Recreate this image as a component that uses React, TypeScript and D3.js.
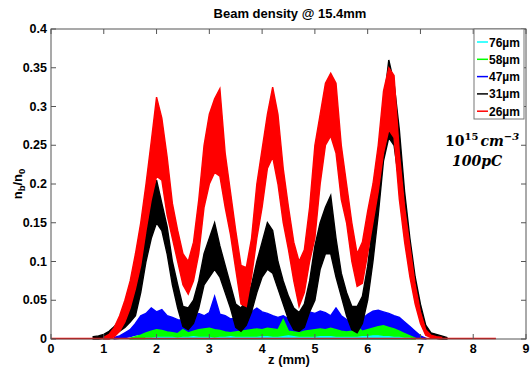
import React from 'react';
import * as d3 from 'd3';

// sampling step of the traces (mm)
const Z_STEP = 0.1;

const xTicks = [0, 1, 2, 3, 4, 5, 6, 7, 8, 9];
const yTicks = [0, 0.05, 0.1, 0.15, 0.2, 0.25, 0.3, 0.35, 0.4];
const yTickLabels = ['0', '0.05', '0.1', '0.15', '0.2', '0.25', '0.3', '0.35', '0.4'];

const legendNames = ['76\u00b5m', '58\u00b5m', '47\u00b5m', '31\u00b5m', '26\u00b5m'];
const legendColors = ['#00ffff', '#00ff00', '#0000ff', '#000000', '#ff0000'];

// 26 um (red), z from 1.0
const red26Start = 1.0;
const red26Hi = [0.002, 0.006, 0.015, 0.03, 0.05, 0.075, 0.11, 0.15, 0.2, 0.255,
  0.312, 0.285, 0.235, 0.175, 0.14, 0.11, 0.1, 0.125, 0.18, 0.25,
  0.29, 0.31, 0.323, 0.24, 0.19, 0.14, 0.095, 0.092, 0.13, 0.2,
  0.245, 0.29, 0.325, 0.29, 0.22, 0.17, 0.125, 0.1, 0.115, 0.17,
  0.25, 0.29, 0.33, 0.343, 0.33, 0.25, 0.2, 0.15, 0.11, 0.125,
  0.165, 0.2, 0.25, 0.32, 0.35, 0.34, 0.24, 0.17, 0.12, 0.07,
  0.035, 0.012, 0.005, 0.003, 0.002];
const red26Lo = [0, 0, 0.003, 0.01, 0.022, 0.04, 0.065, 0.095, 0.14, 0.18,
  0.21, 0.205, 0.16, 0.13, 0.1, 0.07, 0.058, 0.075, 0.11, 0.17,
  0.2, 0.215, 0.21, 0.17, 0.135, 0.09, 0.045, 0.042, 0.08, 0.13,
  0.17, 0.22, 0.235, 0.2, 0.15, 0.115, 0.075, 0.042, 0.06, 0.1,
  0.13, 0.2, 0.25, 0.262, 0.24, 0.18, 0.15, 0.1, 0.068, 0.072,
  0.11, 0.15, 0.19, 0.24, 0.27, 0.26, 0.18, 0.125, 0.08, 0.045,
  0.02, 0.005, 0.002, 0.001, 0];

// 31 um (black), z from 0.8
const black31Start = 0.8;
const black31Hi = [0.003, 0.004, 0.006, 0.01, 0.016, 0.025, 0.038, 0.05, 0.065, 0.1,
  0.135, 0.18, 0.205, 0.175, 0.145, 0.1, 0.07, 0.042, 0.04, 0.05,
  0.075, 0.11, 0.13, 0.15, 0.12, 0.095, 0.07, 0.045, 0.04, 0.05,
  0.07, 0.1, 0.125, 0.15, 0.14, 0.1, 0.075, 0.055, 0.04, 0.034,
  0.045, 0.075, 0.12, 0.15, 0.17, 0.185, 0.13, 0.085, 0.06, 0.042,
  0.042, 0.055, 0.094, 0.15, 0.21, 0.3, 0.36, 0.33, 0.27, 0.19,
  0.13, 0.08, 0.045, 0.018, 0.008, 0.006, 0.004, 0.002];
const black31Lo = [0, 0, 0.001, 0.003, 0.006, 0.01, 0.015, 0.022, 0.03, 0.06,
  0.1, 0.13, 0.15, 0.14, 0.11, 0.07, 0.04, 0.016, 0.012, 0.02,
  0.04, 0.07, 0.08, 0.09, 0.08, 0.06, 0.04, 0.015, 0.01, 0.018,
  0.035, 0.06, 0.08, 0.09, 0.085, 0.065, 0.045, 0.025, 0.012, 0.01,
  0.015, 0.035, 0.05, 0.09, 0.11, 0.11, 0.08, 0.055, 0.03, 0.012,
  0.008, 0.02, 0.05, 0.1, 0.16, 0.23, 0.26, 0.25, 0.2, 0.14,
  0.09, 0.05, 0.025, 0.008, 0.002, 0.001, 0, 0];

// 47 um (blue), z from 1.2
const blue47Start = 1.2;
const blue47Hi = [0.002, 0.004, 0.008, 0.012, 0.02, 0.03, 0.033, 0.04, 0.035, 0.038,
  0.03, 0.028, 0.025, 0.024, 0.027, 0.03, 0.033, 0.03, 0.034, 0.055,
  0.032, 0.03, 0.026, 0.027, 0.03, 0.036, 0.035, 0.04, 0.035, 0.033,
  0.03, 0.028, 0.03, 0.026, 0.028, 0.03, 0.032, 0.035, 0.033, 0.036,
  0.034, 0.03, 0.04, 0.03, 0.025, 0.022, 0.02, 0.026, 0.032, 0.036,
  0.037, 0.035, 0.033, 0.03, 0.028, 0.022, 0.016, 0.01, 0.004, 0.001];
const blue47Lo = [0, 0.001, 0.002, 0.003, 0.005, 0.006, 0.007, 0.008, 0.008, 0.008,
  0.007, 0.007, 0.006, 0.006, 0.006, 0.007, 0.008, 0.008, 0.008, 0.009,
  0.008, 0.007, 0.006, 0.006, 0.007, 0.008, 0.008, 0.008, 0.008, 0.008,
  0.008, 0.007, 0.007, 0.006, 0.006, 0.007, 0.007, 0.008, 0.008, 0.008,
  0.008, 0.008, 0.008, 0.007, 0.006, 0.006, 0.006, 0.006, 0.007, 0.008,
  0.008, 0.008, 0.008, 0.007, 0.006, 0.005, 0.004, 0.002, 0.001, 0];

// 58 um (green), z from 1.5
const green58Start = 1.5;
const green58Hi = [0.001, 0.003, 0.005, 0.008, 0.01, 0.012, 0.011, 0.009, 0.008, 0.007,
  0.012, 0.008, 0.01, 0.012, 0.013, 0.014, 0.012, 0.011, 0.009, 0.008,
  0.009, 0.01, 0.011, 0.012, 0.013, 0.012, 0.014, 0.013, 0.012, 0.025,
  0.01, 0.009, 0.008, 0.01, 0.011, 0.012, 0.013, 0.012, 0.014, 0.012,
  0.01, 0.009, 0.01, 0.016, 0.01, 0.012, 0.014, 0.016, 0.017, 0.015,
  0.013, 0.01, 0.007, 0.004, 0.001];

// 76 um (cyan), z from 1.8
const cyan76Start = 1.8;
const cyan76Hi = [0.001, 0.001, 0.002, 0.002, 0.002, 0.002, 0.001, 0.002, 0.002, 0.003,
  0.002, 0.002, 0.002, 0.001, 0.002, 0.002, 0.003, 0.002, 0.002, 0.002,
  0.002, 0.002, 0.003, 0.003, 0.002, 0.002, 0.003, 0.004, 0.003, 0.002,
  0.002, 0.002, 0.002, 0.003, 0.003, 0.003, 0.002, 0.002, 0.002, 0.002,
  0.002, 0.003, 0.003, 0.004, 0.004, 0.003, 0.003, 0.002, 0.002, 0.001,
  0.001];

type Pt = { z: number; hi: number; lo: number };

const toPoints = (start: number, hi: number[], lo?: number[]): Pt[] =>
  hi.map((v, i) => ({ z: start + i * Z_STEP, hi: v, lo: lo ? lo[i] : 0 }));

const W = 532;
const H = 369;
const margin = { left: 51, right: 6, top: 29, bottom: 30 };

export default function App() {
  const x = d3.scaleLinear().domain([0, 9]).range([margin.left, W - margin.right]);
  const y = d3.scaleLinear().domain([0, 0.4]).range([H - margin.bottom, margin.top]);

  const area = d3.area<Pt>()
    .x(d => x(d.z))
    .y0(d => y(d.lo))
    .y1(d => y(d.hi));

  // drawing order: later ones on top
  const traces = [
    { color: legendColors[2], pts: toPoints(blue47Start, blue47Hi, blue47Lo) },
    { color: legendColors[1], pts: toPoints(green58Start, green58Hi) },
    { color: legendColors[0], pts: toPoints(cyan76Start, cyan76Hi) },
    { color: legendColors[3], pts: toPoints(black31Start, black31Hi, black31Lo) },
    { color: legendColors[4], pts: toPoints(red26Start, red26Hi, red26Lo) },
  ];

  const x0 = x(0), x1 = x(9), yb = y(0), yt = y(0.4);
  const font = "'Liberation Sans', Arial, sans-serif";
  const tick = 5;

  return (
    <svg width={W} height={H} style={{ position: 'absolute', left: 0, top: 0, background: '#fff' }}
      fontFamily={font}>
      <rect x={0} y={0} width={W} height={H} fill="#fff" />

      {/* traces */}
      {traces.map((t, i) => (
        <path key={i} d={area(t.pts) || ''} fill={t.color} stroke={t.color}
          strokeWidth={1.4} strokeLinejoin="miter" />
      ))}
      {/* red baseline along the axis */}
      <line x1={x(0)} x2={x(8.43)} y1={yb - 0.5} y2={yb - 0.5} stroke="#ff0000" strokeWidth={1.5} />

      {/* frame */}
      <rect x={x0} y={yt} width={x1 - x0} height={yb - yt} fill="none" stroke="#555" strokeWidth={1} />
      {xTicks.map(v => (
        <g key={'x' + v}>
          <line x1={x(v)} x2={x(v)} y1={yb} y2={yb - tick} stroke="#555" />
          <line x1={x(v)} x2={x(v)} y1={yt} y2={yt + tick} stroke="#555" />
          <text x={x(v)} y={yb + 14} textAnchor="middle" fontSize={12.5} fontWeight="bold">{v}</text>
        </g>
      ))}
      {yTicks.map((v, i) => (
        <g key={'y' + v}>
          <line x1={x0} x2={x0 + tick} y1={y(v)} y2={y(v)} stroke="#555" />
          <line x1={x1} x2={x1 - tick} y1={y(v)} y2={y(v)} stroke="#555" />
          <text x={x0 - 4} y={y(v) + 4} textAnchor="end" fontSize={12.5} fontWeight="bold">{yTickLabels[i]}</text>
        </g>
      ))}

      {/* title and axis labels */}
      <text x={290} y={18} textAnchor="middle" fontSize={13} fontWeight="bold">Beam density @ 15.4mm</text>
      <text x={289} y={364} textAnchor="middle" fontSize={13} fontWeight="bold">z (mm)</text>
      <text transform={`translate(22,${(yt + yb) / 2}) rotate(-90)`} textAnchor="middle" fontSize={13} fontWeight="bold">
        n<tspan fontSize={9.5} dy={3}>b</tspan><tspan dy={-3}>/n</tspan><tspan fontSize={9.5} dy={3}>0</tspan>
      </text>

      {/* legend */}
      <g>
        <rect x={474} y={yt} width={50} height={90} fill="#fff" stroke="#777" strokeWidth={1} />
        {legendNames.map((n, i) => (
          <g key={n}>
            <line x1={477} x2={488} y1={42 + i * 17.3} y2={42 + i * 17.3} stroke={legendColors[i]} strokeWidth={1.5} />
            <text x={489} y={42 + i * 17.3 + 4.5} fontSize={12} fontWeight="bold">{n}</text>
          </g>
        ))}
      </g>

      {/* annotation */}
      <text x={445} y={146} fontFamily="'DejaVu Serif', serif" fontWeight="bold" fontSize={14}>
        10<tspan fontSize={10} dy={-6}>15</tspan><tspan fontStyle="italic" dy={6} dx={2}>cm</tspan><tspan fontStyle="italic" fontSize={10} dy={-6}>{'\u22123'}</tspan>
      </text>
      <text x={452} y={166} fontFamily="'DejaVu Serif', serif" fontWeight="bold" fontStyle="italic" fontSize={14}>100pC</text>
    </svg>
  );
}
